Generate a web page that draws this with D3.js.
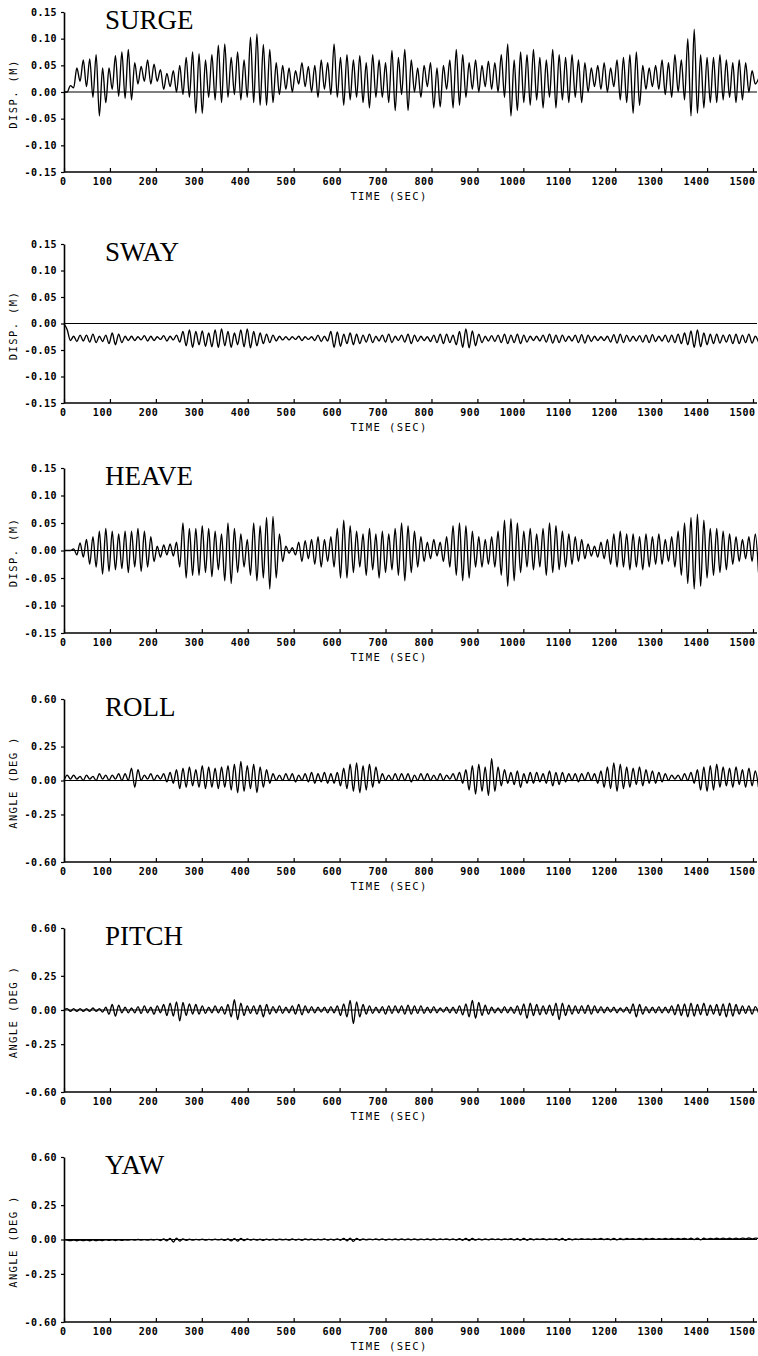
<!DOCTYPE html>
<html>
<head>
<meta charset="utf-8">
<script src="https://cdn.jsdelivr.net/npm/d3@7"></script>
<style>
  html, body { margin: 0; padding: 0; background: #fff; }
  svg { display: block; }
  .tick text { font-family: "DejaVu Sans Mono", monospace; font-size: 10px; font-weight: bold; letter-spacing: 0.5px; fill: #000; }
  .axis path, .axis line { stroke: #000; }
  .axis path { stroke-width: 1.6; }
  .axis line { stroke-width: 1.2; }
  .atitle { font-family: "DejaVu Sans Mono", monospace; font-size: 10.5px; letter-spacing: 1.4px; fill: #000; }
  .ptitle { font-family: "Liberation Serif", "Times New Roman", serif; font-size: 27px; fill: #000; }
</style>
</head>
<body>
<svg id="chart" width="758" height="1356"></svg>
<script>
// ---------------- DATA ----------------
const panelNames = ["SURGE", "SWAY", "HEAVE", "ROLL", "PITCH", "YAW"];
const yTitles = ["DISP. (M)", "DISP. (M)", "DISP. (M)", "ANGLE (DEG )", "ANGLE (DEG )", "ANGLE (DEG )"];
const xTickValues = [0,100,200,300,400,500,600,700,800,900,1000,1100,1200,1300,1400,1500];
const xTitle = "TIME (SEC)";
const dispTicks = [0.15, 0.10, 0.05, 0.00, -0.05, -0.10, -0.15];
const angleTicks = [0.60, 0.25, 0.00, -0.25, -0.60];
const dispRange = [-0.15, 0.15];
const angleRange = [-0.60, 0.60];
const sampleStep = 7;      // seconds between the read-off samples
const sampleEnd = 1512;    // last sample time (s)

// surge displacement (m), one value every 7 s from t = 0
const surge = [
 0.000, 0.000, 0.012, 0.008, 0.045, 0.020, 0.060,
 0.010, 0.062,-0.010, 0.070,-0.045, 0.045,-0.020,
 0.045, 0.005, 0.068,-0.008, 0.075,-0.012, 0.080,
-0.015, 0.055, 0.015, 0.048, 0.020, 0.060, 0.015,
 0.052, 0.020, 0.042, 0.005, 0.035, 0.010, 0.040,
 0.000, 0.050,-0.005, 0.065,-0.010, 0.075,-0.040,
 0.072,-0.040, 0.060,-0.010, 0.070,-0.015, 0.088,
-0.020, 0.090,-0.010, 0.065,-0.005, 0.075,-0.015,
 0.060,-0.010, 0.103,-0.020, 0.109,-0.025, 0.089,
-0.025, 0.080,-0.020, 0.055,-0.005, 0.050, 0.005,
 0.045, 0.000, 0.040, 0.015, 0.055, 0.010, 0.048,
 0.000, 0.050,-0.010, 0.060, 0.005, 0.055,-0.005,
 0.090,-0.010, 0.065,-0.025, 0.070,-0.015, 0.060,
-0.010, 0.068,-0.020, 0.055,-0.030, 0.070,-0.010,
 0.060,-0.010, 0.055,-0.020, 0.078,-0.035, 0.065,
-0.005, 0.080,-0.035, 0.060, 0.000, 0.045,-0.010,
 0.050, 0.010, 0.055,-0.030, 0.045,-0.028, 0.050,
 0.005, 0.060,-0.030, 0.080,-0.025, 0.070,-0.010,
 0.055, 0.005, 0.060, 0.000, 0.050, 0.010, 0.058,
 0.005, 0.055, 0.000, 0.070,-0.010, 0.090,-0.045,
 0.060,-0.035, 0.075,-0.020, 0.070,-0.025, 0.080,
-0.015, 0.065,-0.030, 0.060,-0.010, 0.080,-0.030,
 0.070,-0.015, 0.065,-0.020, 0.070,-0.010, 0.060,
-0.020, 0.055, 0.000, 0.045, 0.010, 0.050, 0.005,
 0.055, 0.000, 0.045, 0.010, 0.060,-0.015, 0.065,
-0.020, 0.070,-0.040, 0.075,-0.025, 0.050, 0.005,
 0.045, 0.010, 0.050, 0.005, 0.060,-0.005, 0.055,
-0.010, 0.070, 0.000, 0.060,-0.015, 0.100,-0.045,
 0.118,-0.040, 0.070,-0.030, 0.065,-0.020, 0.065,
-0.020, 0.070,-0.015, 0.060,-0.010, 0.055,-0.020,
 0.060,-0.015, 0.055, 0.000, 0.040, 0.015, 0.025
];

// sway displacement (m)
const sway = [
 0.000,-0.012,-0.032,-0.024,-0.034,-0.022,-0.033,
-0.022,-0.035,-0.020,-0.036,-0.024,-0.034,-0.022,
-0.038,-0.018,-0.040,-0.020,-0.036,-0.024,-0.032,
-0.024,-0.032,-0.025,-0.031,-0.023,-0.033,-0.024,
-0.032,-0.025,-0.030,-0.023,-0.033,-0.024,-0.031,
-0.022,-0.035,-0.015,-0.042,-0.012,-0.045,-0.015,
-0.040,-0.014,-0.043,-0.018,-0.044,-0.012,-0.045,
-0.010,-0.042,-0.015,-0.045,-0.018,-0.040,-0.012,
-0.044,-0.010,-0.046,-0.015,-0.042,-0.018,-0.038,
-0.020,-0.036,-0.022,-0.033,-0.024,-0.031,-0.025,
-0.031,-0.025,-0.030,-0.024,-0.032,-0.025,-0.030,
-0.025,-0.032,-0.022,-0.034,-0.024,-0.033,-0.015,
-0.045,-0.016,-0.043,-0.020,-0.038,-0.018,-0.040,
-0.020,-0.038,-0.022,-0.035,-0.020,-0.036,-0.024,
-0.033,-0.022,-0.035,-0.020,-0.036,-0.024,-0.032,
-0.022,-0.035,-0.020,-0.038,-0.022,-0.034,-0.024,
-0.032,-0.025,-0.034,-0.022,-0.036,-0.020,-0.038,
-0.020,-0.036,-0.022,-0.040,-0.015,-0.045,-0.010,
-0.046,-0.014,-0.042,-0.020,-0.036,-0.024,-0.033,
-0.023,-0.034,-0.022,-0.036,-0.020,-0.038,-0.022,
-0.036,-0.020,-0.038,-0.022,-0.035,-0.024,-0.032,
-0.024,-0.033,-0.022,-0.035,-0.020,-0.037,-0.022,
-0.036,-0.022,-0.034,-0.024,-0.033,-0.022,-0.036,
-0.021,-0.037,-0.022,-0.034,-0.024,-0.032,-0.025,
-0.032,-0.024,-0.035,-0.021,-0.037,-0.020,-0.036,
-0.022,-0.034,-0.024,-0.033,-0.023,-0.035,-0.022,
-0.036,-0.021,-0.034,-0.024,-0.033,-0.022,-0.035,
-0.022,-0.036,-0.020,-0.038,-0.018,-0.040,-0.014,
-0.045,-0.012,-0.044,-0.018,-0.040,-0.020,-0.038,
-0.020,-0.037,-0.022,-0.035,-0.021,-0.038,-0.020,
-0.038,-0.022,-0.036,-0.020,-0.037,-0.024,-0.035
];

// heave displacement (m)
const heave = [
 0.000, 0.000, 0.000, 0.003,-0.008, 0.014,-0.012,
 0.020,-0.025, 0.025,-0.030, 0.035,-0.043, 0.040,
-0.038, 0.035,-0.035, 0.030,-0.033, 0.035,-0.040,
 0.035,-0.030, 0.040,-0.038, 0.035,-0.030, 0.025,
-0.020, 0.008,-0.012, 0.010,-0.008, 0.012,-0.010,
 0.015,-0.030, 0.050,-0.050, 0.040,-0.045, 0.040,
-0.045, 0.045,-0.040, 0.040,-0.048, 0.035,-0.035,
 0.030,-0.055, 0.050,-0.060, 0.040,-0.040, 0.030,
-0.030, 0.020,-0.045, 0.050,-0.055, 0.045,-0.050,
 0.060,-0.070, 0.062,-0.050, 0.030,-0.020, 0.008,
-0.005, 0.005,-0.008, 0.015,-0.020, 0.018,-0.015,
 0.020,-0.025, 0.025,-0.030, 0.020,-0.020, 0.025,
-0.030, 0.040,-0.050, 0.055,-0.050, 0.045,-0.040,
 0.035,-0.030, 0.030,-0.045, 0.040,-0.035, 0.030,
-0.050, 0.035,-0.040, 0.030,-0.035, 0.040,-0.045,
 0.050,-0.055, 0.045,-0.040, 0.035,-0.030, 0.025,
-0.020, 0.015,-0.015, 0.020,-0.010, 0.015,-0.020,
 0.025,-0.030, 0.045,-0.045, 0.050,-0.055, 0.045,
-0.050, 0.035,-0.030, 0.025,-0.030, 0.020,-0.025,
 0.025,-0.030, 0.035,-0.045, 0.055,-0.065, 0.058,
-0.055, 0.050,-0.040, 0.035,-0.030, 0.040,-0.035,
 0.030,-0.030, 0.040,-0.045, 0.050,-0.040, 0.045,
-0.035, 0.035,-0.030, 0.030,-0.025, 0.025,-0.020,
 0.020,-0.015, 0.012,-0.010, 0.008,-0.012, 0.015,
-0.015, 0.020,-0.025, 0.030,-0.030, 0.035,-0.030,
 0.030,-0.035, 0.030,-0.030, 0.025,-0.035, 0.030,
-0.030, 0.025,-0.025, 0.030,-0.025, 0.020,-0.020,
 0.025,-0.030, 0.035,-0.045, 0.050,-0.060, 0.060,
-0.070, 0.066,-0.065, 0.055,-0.050, 0.040,-0.045,
 0.040,-0.040, 0.035,-0.035, 0.030,-0.025, 0.025,
-0.020, 0.020,-0.015, 0.025,-0.020, 0.030,-0.040
];

// roll angle (deg)
const roll = [
 0.00, 0.04, 0.01, 0.04, 0.01, 0.03, 0.00,
 0.04, 0.01, 0.03, 0.00, 0.05, 0.01, 0.04,
 0.00, 0.04, 0.01, 0.05, 0.00, 0.05, 0.00,
 0.09,-0.05, 0.08, 0.00, 0.04, 0.01, 0.05,
 0.00, 0.04, 0.01, 0.05,-0.01, 0.06,-0.02,
 0.08,-0.06, 0.09,-0.05, 0.10,-0.04, 0.08,
-0.05, 0.11,-0.06, 0.10,-0.05, 0.09,-0.06,
 0.10,-0.05, 0.11,-0.07, 0.12,-0.09, 0.14,
-0.08, 0.11,-0.06, 0.12,-0.09, 0.10,-0.05,
 0.08,-0.02, 0.05, 0.00, 0.04, 0.00, 0.05,
 0.00, 0.05,-0.01, 0.04, 0.00, 0.05,-0.01,
 0.06,-0.02, 0.05,-0.01, 0.06,-0.02, 0.05,
-0.02, 0.06,-0.04, 0.09,-0.06, 0.12,-0.08,
 0.13,-0.09, 0.11,-0.07, 0.12,-0.05, 0.10,
-0.02, 0.05, 0.00, 0.04, 0.00, 0.05, 0.00,
 0.05, 0.00, 0.05,-0.01, 0.04, 0.00, 0.05,
 0.00, 0.05, 0.00, 0.04, 0.00, 0.05, 0.00,
 0.04, 0.01, 0.05, 0.00, 0.06,-0.02, 0.08,
-0.07, 0.11,-0.10, 0.12,-0.08, 0.10,-0.11,
 0.16,-0.08, 0.10,-0.04, 0.08,-0.02, 0.06,
-0.03, 0.07,-0.05, 0.05,-0.02, 0.06,-0.02,
 0.06,-0.01, 0.05,-0.02, 0.07,-0.04, 0.06,
-0.03, 0.06,-0.01, 0.05, 0.00, 0.05,-0.01,
 0.05, 0.00, 0.06, 0.00, 0.05,-0.02, 0.07,
-0.05, 0.10,-0.06, 0.13,-0.08, 0.12,-0.06,
 0.10,-0.05, 0.09,-0.03, 0.10,-0.04, 0.08,
-0.02, 0.07,-0.02, 0.06,-0.01, 0.05, 0.00,
 0.04, 0.01, 0.04, 0.00, 0.05, 0.00, 0.06,
-0.02, 0.08,-0.07, 0.10,-0.08, 0.11,-0.07,
 0.12,-0.05, 0.10,-0.04, 0.09,-0.05, 0.10,
-0.03, 0.08,-0.05, 0.09,-0.04, 0.07,-0.05
];

// pitch angle (deg)
const pitch = [
 0.000, 0.010,-0.010, 0.010,-0.010, 0.010,-0.010,
 0.010,-0.010, 0.015,-0.010, 0.010,-0.015, 0.020,
-0.030, 0.040,-0.045, 0.035,-0.020, 0.020,-0.020,
 0.015,-0.020, 0.025,-0.025, 0.030,-0.020, 0.020,
-0.030, 0.030,-0.020, 0.040,-0.040, 0.050,-0.045,
 0.060,-0.080, 0.055,-0.040, 0.045,-0.030, 0.040,
-0.030, 0.030,-0.025, 0.020,-0.020, 0.030,-0.020,
 0.025,-0.030, 0.040,-0.050, 0.075,-0.070, 0.050,
-0.040, 0.030,-0.025, 0.030,-0.030, 0.035,-0.050,
 0.040,-0.030, 0.025,-0.020, 0.030,-0.025, 0.020,
-0.020, 0.030,-0.030, 0.040,-0.035, 0.030,-0.020,
 0.025,-0.020, 0.020,-0.015, 0.020,-0.020, 0.025,
-0.020, 0.030,-0.040, 0.045,-0.050, 0.070,-0.100,
 0.060,-0.050, 0.040,-0.030, 0.030,-0.025, 0.020,
-0.020, 0.025,-0.030, 0.030,-0.025, 0.030,-0.020,
 0.030,-0.030, 0.035,-0.030, 0.030,-0.025, 0.030,
-0.025, 0.020,-0.020, 0.025,-0.020, 0.015,-0.015,
 0.020,-0.020, 0.020,-0.025, 0.030,-0.035, 0.045,
-0.050, 0.070,-0.060, 0.055,-0.040, 0.035,-0.030,
 0.020,-0.020, 0.015,-0.020, 0.025,-0.020, 0.020,
-0.025, 0.030,-0.035, 0.045,-0.060, 0.050,-0.040,
 0.040,-0.035, 0.030,-0.030, 0.035,-0.040, 0.050,
-0.070, 0.050,-0.040, 0.035,-0.030, 0.030,-0.025,
 0.030,-0.025, 0.035,-0.030, 0.030,-0.020, 0.025,
-0.020, 0.020,-0.015, 0.020,-0.020, 0.015,-0.015,
 0.020,-0.025, 0.045,-0.050, 0.040,-0.030, 0.025,
-0.020, 0.020,-0.020, 0.025,-0.020, 0.020,-0.020,
 0.030,-0.035, 0.040,-0.040, 0.045,-0.050, 0.050,
-0.045, 0.040,-0.035, 0.050,-0.040, 0.035,-0.030,
 0.040,-0.040, 0.045,-0.050, 0.050,-0.045, 0.040,
-0.030, 0.030,-0.025, 0.030,-0.030, 0.025,-0.020
];

// yaw angle (deg)
const yaw = [
 0.000,-0.005,-0.008,-0.004,-0.009,-0.005,-0.008,
-0.004,-0.009,-0.003,-0.008,-0.004,-0.007,-0.002,
-0.006,-0.002,-0.007,-0.003,-0.006,-0.002,-0.005,
-0.001,-0.005, 0.000,-0.004,-0.001,-0.005, 0.000,
-0.004, 0.001,-0.008, 0.004,-0.010, 0.008,-0.018,
 0.010,-0.012, 0.004,-0.006, 0.002,-0.005, 0.001,
-0.004, 0.002,-0.005, 0.001,-0.004, 0.002,-0.003,
 0.002,-0.006, 0.004,-0.010, 0.006,-0.012, 0.008,
-0.008, 0.004,-0.004, 0.003,-0.005, 0.002,-0.006,
 0.003,-0.004, 0.002,-0.005, 0.003,-0.003, 0.002,
-0.005, 0.004,-0.004, 0.003,-0.006, 0.004,-0.003,
 0.003,-0.004, 0.002,-0.003, 0.004,-0.004, 0.003,
-0.004, 0.005,-0.006, 0.008,-0.010, 0.010,-0.014,
 0.008,-0.006, 0.004,-0.003, 0.003,-0.002, 0.004,
-0.003, 0.004,-0.004, 0.003,-0.002, 0.005,-0.003,
 0.004,-0.003, 0.005,-0.002, 0.004,-0.003, 0.003,
-0.002, 0.004,-0.003, 0.005,-0.002, 0.004,-0.001,
 0.005,-0.002, 0.004,-0.004, 0.006,-0.006, 0.008,
-0.008, 0.007,-0.005, 0.005,-0.003, 0.004,-0.002,
 0.005,-0.001, 0.004,-0.002, 0.005,-0.001, 0.006,
-0.003, 0.006,-0.005, 0.008,-0.006, 0.006,-0.002,
 0.005, 0.000, 0.006,-0.002, 0.005, 0.000, 0.006,
-0.004, 0.007,-0.006, 0.006,-0.002, 0.005, 0.000,
 0.006, 0.001, 0.005, 0.000, 0.006, 0.001, 0.007,
 0.000, 0.006,-0.002, 0.008,-0.003, 0.007, 0.000,
 0.007, 0.002, 0.006, 0.001, 0.008, 0.000, 0.007,
 0.002, 0.007, 0.001, 0.006, 0.002, 0.008, 0.002,
 0.008, 0.002, 0.007, 0.003, 0.008, 0.001, 0.009,
 0.000, 0.010,-0.002, 0.009, 0.002, 0.008, 0.003,
 0.009, 0.003, 0.010, 0.004, 0.009, 0.003, 0.010,
 0.004, 0.010, 0.005, 0.011, 0.004, 0.010, 0.008
];

const seriesList = [surge, sway, heave, roll, pitch, yaw];
const isAngle = [false, false, false, true, true, true];

// ---------------- LAYOUT ----------------
const panelTop = [12, 244, 468, 699, 928, 1157];
const panelBottom = [172, 403, 633, 862, 1092, 1322];
const xLeft = 64, xRight = 753, axisEnd = 757;

const svg = d3.select("#chart");
const x = d3.scaleLinear().domain([0, 1500]).range([xLeft, xRight]);
const times = d3.range(0, sampleEnd + 1, sampleStep);
const fmt = v => v.toFixed(2);

seriesList.forEach((vals, p) => {
  const top = panelTop[p], bot = panelBottom[p];
  const dom = isAngle[p] ? angleRange : dispRange;
  const y = d3.scaleLinear().domain(dom).range([bot, top]);
  const g = svg.append("g");

  // left axis
  const yAxis = d3.axisLeft(y)
    .tickValues(isAngle[p] ? angleTicks : dispTicks)
    .tickFormat(fmt)
    .tickSizeInner(3).tickSizeOuter(0).tickPadding(4);
  g.append("g").attr("class", "axis")
    .attr("transform", `translate(${xLeft},0)`)
    .call(yAxis);

  // bottom axis (ticks pointing up, labels right-aligned to the tick)
  const xAxis = d3.axisBottom(x)
    .tickValues(xTickValues)
    .tickFormat(d3.format("d"))
    .tickSizeInner(-4).tickSizeOuter(0).tickPadding(6);
  const xg = g.append("g").attr("class", "axis")
    .attr("transform", `translate(0,${bot})`)
    .call(xAxis);
  xg.select(".domain").attr("d", `M${xLeft},0H${axisEnd}`);
  xg.selectAll(".tick text").attr("text-anchor", "end").attr("x", 2);

  // zero reference line
  g.append("line")
    .attr("x1", xLeft).attr("x2", axisEnd)
    .attr("y1", y(0)).attr("y2", y(0))
    .attr("stroke", "#000").attr("stroke-width", 1.2);

  // data line
  const pts = times.map((t, i) => [t, vals[i]]).filter(d => d[1] !== undefined);
  const line = d3.line().x(d => x(d[0])).y(d => y(d[1])).curve(d3.curveMonotoneX);
  g.append("path")
    .attr("d", line(pts))
    .attr("fill", "none")
    .attr("stroke", "#000")
    .attr("stroke-width", 1.35)
    .attr("stroke-linejoin", "round");

  // panel title
  g.append("text").attr("class", "ptitle")
    .attr("x", 105).attr("y", top + 17)
    .text(panelNames[p]);

  // y title
  g.append("text").attr("class", "atitle")
    .attr("transform", `translate(17,${(top + bot) / 2 + 2}) rotate(-90)`)
    .attr("text-anchor", "middle")
    .text(yTitles[p]);

  // x title
  g.append("text").attr("class", "atitle")
    .attr("x", 389).attr("y", bot + 28)
    .attr("text-anchor", "middle")
    .text(xTitle);
});
</script>
</body>
</html>
